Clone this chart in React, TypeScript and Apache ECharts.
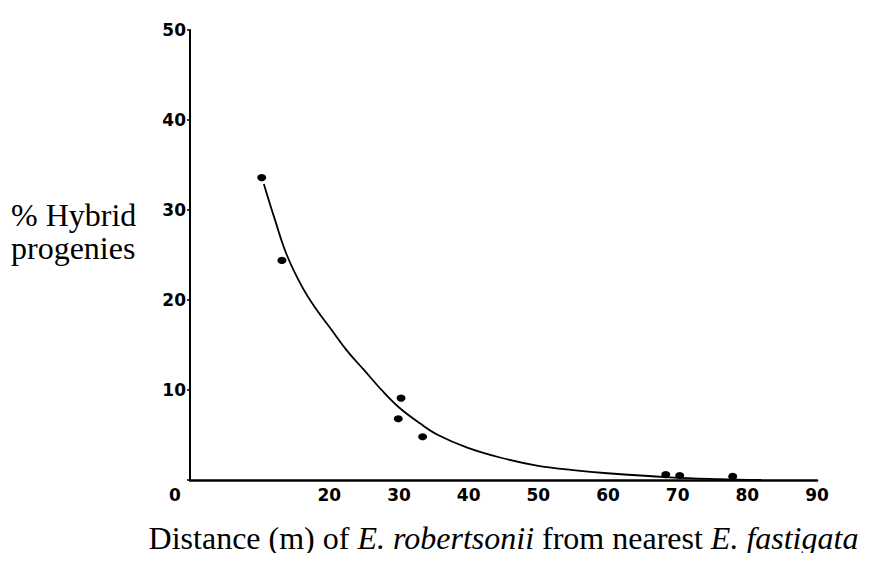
import React, { useEffect, useRef } from "react";
import * as echarts from "echarts";

// Observed points: distance (m) vs % hybrid progenies
const distance = [10.3, 13.2, 30.3, 29.9, 33.4, 68.3, 70.3, 77.9];
const hybridPct = [33.6, 24.4, 9.1, 6.8, 4.8, 0.6, 0.5, 0.4];

// Hand-fitted curve
const curveX = [10.6, 12.2, 13.9, 16.0, 18.0, 20.2, 22.5, 25.0, 27.5, 30.1, 33.0, 35.6, 39.8, 44.5, 49.8, 55.0, 59.9, 68.9, 76.0, 82.0];
const curveY = [32.9, 28.9, 25.0, 21.6, 19.1, 16.8, 14.4, 12.2, 10.0, 8.0, 6.3, 5.0, 3.6, 2.5, 1.6, 1.1, 0.75, 0.3, 0.1, 0.0];

const xLabelValues = [0, 20, 30, 40, 50, 60, 70, 80, 90];
const yLabelValues = [10, 20, 30, 40, 50];

const yTitle = "% Hybrid\nprogenies";

export default function App() {
  const ref = useRef<HTMLDivElement>(null);
  useEffect(() => {
    if (!ref.current) return;
    const chart = echarts.init(ref.current, null, { renderer: "svg" });
    const tickFont = { fontFamily: "DejaVu Sans", fontWeight: "bold" as const, fontSize: 17, color: "#000" };
    chart.setOption({
      animation: false,
      backgroundColor: "#fff",
      grid: { left: 190, right: 71, top: 30, bottom: 81, containLabel: false },
      xAxis: {
        type: "value",
        min: 0,
        max: 90,
        interval: 10,
        name: "Distance (m) of {i|E. robertsonii} from nearest {i|E. fastigata}",
        nameLocation: "middle",
        nameGap: 42,
        nameTextStyle: {
          fontFamily: "Liberation Serif",
          fontSize: 32,
          color: "#000",
          rich: {
            i: { fontFamily: "Liberation Serif", fontStyle: "italic", fontSize: 32, color: "#000" },
          },
        },
        axisLine: { show: true, lineStyle: { color: "#000", width: 2.5 } },
        axisTick: { show: false },
        splitLine: { show: false },
        axisLabel: {
          ...tickFont,
          margin: 6,
          formatter: (v: number) => {
            if (v === 0) return "{z|0}";
            return xLabelValues.includes(v) ? String(v) : "";
          },
          rich: { z: { ...tickFont, padding: [0, 30, 0, 0] } },
        },
      },
      yAxis: {
        type: "value",
        min: 0,
        max: 50,
        interval: 10,
        axisLine: { show: true, lineStyle: { color: "#000", width: 2 } },
        axisTick: { show: true, length: 3, lineStyle: { color: "#000", width: 1.5 } },
        splitLine: { show: false },
        axisLabel: {
          ...tickFont,
          margin: 4,
          formatter: (v: number) => (yLabelValues.includes(v) ? String(v) : ""),
        },
      },
      graphic: [
        {
          type: "text",
          left: 11,
          top: 198,
          style: {
            text: yTitle,
            font: "32px 'Liberation Serif'",
            fill: "#000",
            lineHeight: 33,
          },
        },
      ],
      series: [
        {
          type: "line",
          data: curveX.map((x, i) => [x, curveY[i]]),
          smooth: 0.4,
          showSymbol: false,
          symbol: "none",
          lineStyle: { color: "#000", width: 1.8 },
          z: 2,
        },
        {
          type: "scatter",
          data: distance.map((x, i) => [x, hybridPct[i]]),
          symbol: "circle",
          symbolSize: [9, 7],
          itemStyle: { color: "#000", opacity: 1 },
          z: 3,
        },
      ],
    });
    return () => chart.dispose();
  }, []);
  return <div ref={ref} style={{ width: 888, height: 561, margin: -8 }} />;
}
